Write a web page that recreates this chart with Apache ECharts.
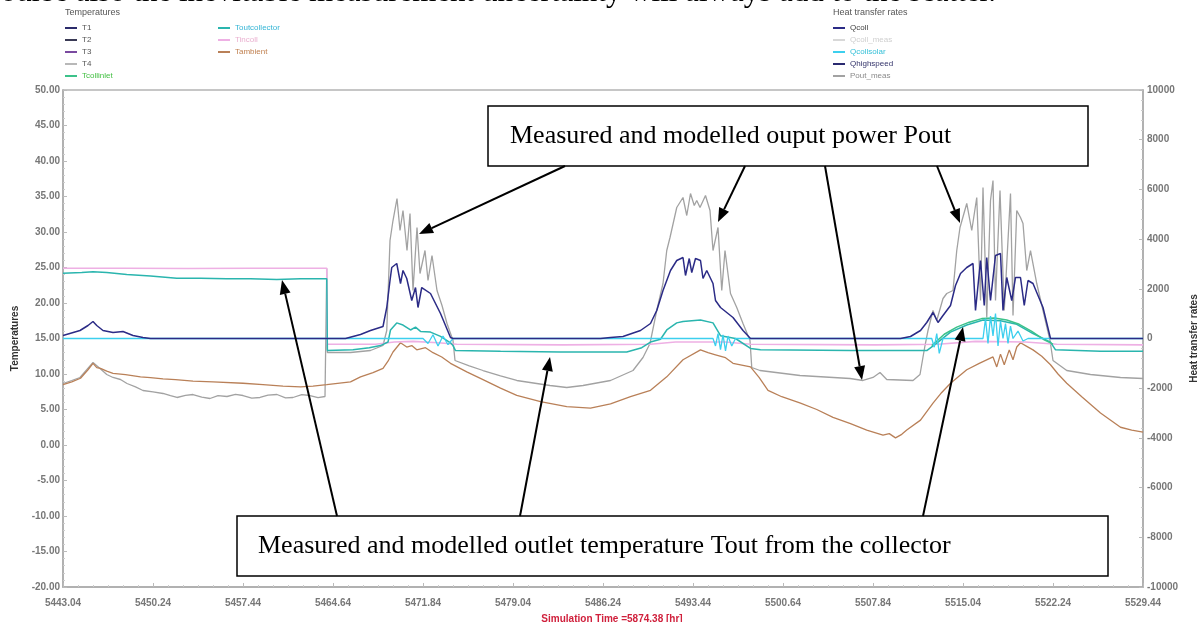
<!DOCTYPE html>
<html>
<head>
<meta charset="utf-8">
<script src="https://cdn.jsdelivr.net/npm/echarts@6/dist/echarts.min.js"></script>
<style>
html,body{margin:0;padding:0;background:#fff;overflow:hidden;}
#chart{width:1198px;height:622px;}
</style>
</head>
<body>
<div id="chart"></div>
<script>
// ---------- DATA (hours since 5443.04, values) ----------
const xTickLabels = ['5443.04','5450.24','5457.44','5464.64','5471.84','5479.04','5486.24','5493.44','5500.64','5507.84','5515.04','5522.24','5529.44'];
const xStep = 7.2;

// Temperatures [°C]
const tIncoll = [[0,24.9],[5,24.9],[10,24.85],[15,24.9],[21.1,24.9],[21.12,14.2],[25,14.2],[26.5,14.5],[28,14.6],[30,14.4],[31.5,14.2],[40,14.1],[47,14.2],[49,14.5],[53,14.5],[55,14.2],[65,14.1],[70,14.2],[73,14.6],[77,14.5],[79.5,14.2],[86.4,14.1]];

const tOutColl = [[0,24.2],[1.5,24.3],[2.4,24.4],[3.5,24.3],[5.1,24.0],[7,23.8],[9.1,23.5],[11,23.5],[13.1,23.4],[15,23.4],[17.1,23.3],[19,23.4],[21.1,23.4],[21.15,13.3],[23.2,13.4],[24.5,13.7],[25.4,14.0],[26.0,14.5],[26.2,16.2],[26.7,17.2],[27.2,16.9],[27.8,16.2],[28.2,16.6],[28.6,16.0],[29.4,15.9],[30.2,15.3],[31.0,14.4],[31.2,14.0],[31.4,13.3],[35,13.2],[39.8,13.1],[45.1,13.1],[46.3,13.7],[47,14.5],[47.8,14.9],[48.3,16.2],[49.1,17.2],[49.6,17.4],[50.3,17.5],[51,17.6],[52,17.2],[52.6,15.4],[53.8,15.0],[55,13.6],[55.8,13.4],[63,13.3],[69.1,13.3],[69.8,14.2],[71,15.9],[72.3,16.9],[73.6,17.6],[75,17.5],[76.3,17.0],[77.6,15.7],[79,14.5],[79.4,13.4],[83,13.2],[86.4,13.2]];

const tCollInlet = [[69.5,14.0],[70.5,15.6],[71.5,16.6],[72.5,17.3],[73.5,17.8],[74.5,17.9],[75.5,17.6],[76.5,17.0],[77.5,16.0],[78.5,14.8],[79.2,14.2]];

const tAmbient = [[0,8.5],[0.7,8.9],[1.4,9.4],[2.0,10.6],[2.4,11.5],[2.7,10.9],[3.0,10.8],[3.5,10.4],[4,10.1],[5,9.9],[6.2,9.6],[7,9.5],[8,9.3],[9,9.2],[10.4,9.0],[12,8.9],[14.4,8.7],[16,8.5],[17.6,8.3],[19,8.2],[20,8.3],[21.1,8.5],[23,8.9],[23.8,9.6],[24.8,10.2],[25.6,10.8],[26.0,11.8],[26.4,13.1],[27,14.4],[27.5,13.8],[27.9,14.0],[28.3,13.4],[29,13.7],[29.6,13.0],[30.3,12.4],[31,11.5],[32.3,10.3],[33.6,9.2],[35,8.0],[36.3,7.0],[38.2,6.1],[40.3,5.4],[42.2,5.2],[43.8,5.8],[45.4,6.8],[47,7.7],[48.3,9.6],[49.6,12.0],[51,13.4],[51.6,13.0],[52.2,12.7],[53,12.3],[53.6,11.5],[55,11.0],[55.7,9.5],[56.4,7.7],[57.5,6.8],[59,5.9],[60.3,5.0],[61.6,3.9],[63,3.0],[64.3,2.1],[65.6,1.4],[66.1,1.6],[66.6,1.0],[67.1,1.5],[67.5,2.1],[68.6,3.5],[69.6,5.9],[70.3,7.4],[71,8.7],[72.3,10.6],[73.3,11.5],[74.4,12.4],[74.7,11.0],[75.0,12.8],[75.3,11.3],[75.7,13.4],[76.0,12.0],[76.3,13.8],[76.6,14.4],[77.1,13.9],[77.6,13.4],[78.3,12.5],[79,11.3],[79.6,10.0],[80.3,8.7],[81.5,6.8],[83,4.5],[84.6,2.5],[85.5,2.1],[86.4,1.8]];

// Heat transfer rates [W]
const qColl = [[0,121],[1.36,322],[2.0,523],[2.4,684],[2.7,523],[3.2,322],[4,241],[4.8,282],[5.6,121],[6.4,40],[7,0],[21.1,0],[22.6,0],[23.8,161],[24.6,322],[25.6,483],[25.9,1247],[26.16,2334],[26.3,2857],[26.7,3018],[27,2213],[27.2,2736],[27.5,2414],[27.9,1529],[28.2,2052],[28.4,1247],[28.7,2052],[29.4,1811],[30.2,1006],[31,40],[31.2,0],[43,0],[43.8,40],[44.8,80],[46.2,322],[47,604],[47.5,1127],[48,1932],[48.6,2736],[49.1,3139],[49.6,3260],[49.8,2535],[50.1,3219],[50.3,2656],[50.6,3219],[51,3139],[51.2,2414],[51.5,2736],[52,2213],[52.2,1529],[52.6,1247],[53.1,1046],[53.6,845],[54.4,322],[55,0],[67,0],[67.8,80],[68.6,322],[69.1,644],[69.6,1046],[70,644],[70.4,926],[71,1328],[71.4,2133],[71.8,2616],[72.3,2857],[72.8,3018],[73,1127],[73.4,3139],[73.7,1328],[73.9,3260],[74.2,1529],[74.6,3340],[75,3420],[75.2,1127],[75.5,2455],[75.9,1529],[76.2,2455],[76.6,2455],[76.9,1328],[77.2,2334],[77.6,2213],[78.4,1247],[79,0],[86.4,0]];

const qCollSolar = [[0,0],[28.8,0],[29.2,-200],[29.6,150],[30,-300],[30.4,100],[30.8,-250],[31.2,0],[52,0],[52.2,-300],[52.4,200],[52.6,-450],[52.8,150],[53,-500],[53.2,100],[53.5,-300],[53.8,0],[69.5,0],[69.7,-350],[69.9,200],[70.1,-600],[70.4,0],[73.6,0],[73.8,800],[74,-200],[74.2,900],[74.4,100],[74.6,1000],[74.8,-300],[75,700],[75.2,0],[75.4,600],[75.6,-200],[75.8,500],[76,0],[76.4,300],[76.8,-100],[77.2,0],[86.4,0]];

const poutMeas = [[0,-1811],[0.7,-1690],[1.36,-1569],[1.9,-1250],[2.4,-966],[2.96,-1207],[3.5,-1450],[4,-1569],[4.6,-1650],[5.12,-1811],[5.8,-1950],[6.4,-2093],[7.2,-2150],[8,-2213],[8.6,-2300],[9.12,-2374],[9.8,-2290],[10.4,-2254],[11.1,-2360],[11.76,-2414],[12.4,-2300],[13.12,-2334],[13.8,-2250],[14.4,-2294],[15.1,-2400],[15.76,-2374],[16.4,-2280],[17.12,-2254],[17.8,-2390],[18.4,-2374],[19.1,-2260],[19.76,-2294],[20.4,-2380],[20.96,-2334],[21.05,-2334],[21.1,2817],[21.15,-563],[23,-563],[24.6,-483],[25.6,-282],[25.9,322],[26.16,3944],[26.4,4748],[26.72,5634],[26.96,4346],[27.2,5151],[27.52,3541],[27.76,5030],[28,1932],[28.32,4467],[28.56,2616],[28.96,3541],[29.2,2334],[29.52,3340],[29.92,1932],[30.32,1328],[30.72,604],[31.2,-80],[31.36,-885],[32.5,-1100],[33.6,-1288],[35,-1500],[36.3,-1690],[38.96,-1891],[40.3,-1972],[41.6,-1891],[43.8,-1690],[45.6,-1288],[46.4,-765],[46.96,-201],[47.5,1127],[48,2213],[48.3,3541],[48.56,4064],[49.1,5272],[49.6,5674],[49.9,4950],[50.2,5835],[50.5,5352],[50.7,5553],[50.96,5272],[51.4,5755],[51.76,5151],[52,3541],[52.4,4467],[52.7,1932],[52.96,3541],[53.4,1811],[53.9,1247],[54.4,604],[54.96,-80],[55.1,-1167],[55.76,-1288],[58.96,-1489],[62.96,-1610],[64,-1690],[64.8,-1569],[65.36,-1368],[65.9,-1650],[68,-1690],[68.56,-1449],[68.96,-282],[69.2,322],[69.6,1127],[69.9,724],[70.4,1610],[70.7,1811],[71.2,1932],[71.5,3541],[71.76,4467],[72.3,5433],[72.7,4346],[73.1,5674],[73.4,1529],[73.6,6076],[73.9,845],[74.2,5553],[74.4,6358],[74.6,1529],[74.96,5956],[75.3,1127],[75.8,5835],[76,926],[76.3,5151],[76.6,4869],[76.8,4628],[77.1,2736],[77.4,3541],[77.9,2213],[78.4,1127],[78.96,-80],[79.2,-885],[80.3,-1288],[82.2,-1449],[84.6,-1569],[86.4,-1610]];

const emptySeries = [];

// ---------- CHART ----------
const chart = echarts.init(document.getElementById('chart'), null, {renderer:'canvas'});

const serif = '"Liberation Serif","Times New Roman",serif';
const sans = '"Liberation Sans",Arial,sans-serif';

function line(name, data, color, yAxisIndex, width, z) {
  return {name, type:'line', data, yAxisIndex, showSymbol:false, symbol:'none',
    lineStyle:{color, width: width||1.2}, itemStyle:{color}, z: z||2, animation:false};
}

const series = [
  line('T1', emptySeries, '#2b2b6b', 0),
  line('T2', emptySeries, '#3a3a55', 0),
  line('T3', emptySeries, '#7a4aa0', 0),
  line('T4', emptySeries, '#b8b8b8', 0),
  line('Pout_meas', poutMeas, '#a2a2a2', 1, 1.3, 2),
  line('Tambient', tAmbient, '#b98058', 0, 1.3, 3),
  line('Tincoll', tIncoll, '#eeb0e4', 0, 1.6, 3),
  line('Toutcollector', tOutColl, '#2ab5ae', 0, 1.5, 4),
  line('Tcollinlet', tCollInlet, '#3cc28a', 0, 1.5, 5),
  line('Qcollsolar', qCollSolar, '#3ccfee', 1, 1.3, 5),
  line('Qcoll_meas', emptySeries, '#d8d8d8', 1),
  line('Qhighspeed', emptySeries, '#2a2a70', 1),
  line('Qcoll', qColl, '#2b2b86', 1, 1.5, 6)
];

function legendBlock(left, items) {
  return {
    left, top: 23, orient:'vertical', icon:'rect', itemWidth:12, itemHeight:2, itemGap:2,
    selectedMode:false, padding:0,
    textStyle:{fontSize:8, lineHeight:10, fontFamily:sans, color:'#555', padding:[0,0,0,0]},
    data: items.map(it => ({name: it[0], textStyle:{color: it[1]}}))
  };
}

const arrows = [
  [565,166,419,234],[745,166,718,222],[825,166,862,380],[937,166,960,223],
  [337,516,282,280],[520,516,550,357],[923,516,963,327]
];
function arrowGraphics() {
  const out = [];
  arrows.forEach(a => {
    const [x1,y1,x2,y2] = a;
    const ang = Math.atan2(y2-y1, x2-x1), L = 14, W = 5.5;
    const bx = x2 - L*Math.cos(ang), by = y2 - L*Math.sin(ang);
    out.push({type:'line', z:100, shape:{x1, y1, x2:bx, y2:by}, style:{stroke:'#000', lineWidth:2}});
    out.push({type:'polygon', z:100, shape:{points:[[x2,y2],[bx + W*Math.sin(ang), by - W*Math.cos(ang)],[bx - W*Math.sin(ang), by + W*Math.cos(ang)]]}, style:{fill:'#000'}});
  });
  return out;
}

const option = {
  backgroundColor:'#fff',
  animation:false,
  grid:{left:63, right:55, top:90, bottom:35, show:true, borderColor:'#b4b4b4', borderWidth:1.5, backgroundColor:'transparent', containLabel:false, outerBoundsMode:'none'},
  legend:[
    legendBlock(65, [['T1','#555'],['T2','#555'],['T3','#555'],['T4','#555'],['Tcollinlet','#44c044']]),
    legendBlock(218, [['Toutcollector','#35b5d5'],['Tincoll','#eab0d0'],['Tambient','#c08050']]),
    legendBlock(833, [['Qcoll','#444'],['Qcoll_meas','#cfcfcf'],['Qcollsolar','#35c0d8'],['Qhighspeed','#33336a'],['Pout_meas','#8a8a8a']])
  ],
  xAxis:{
    type:'value', min:0, max:86.4, interval:xStep,
    name:'Simulation Time =5874.38 [hr]', nameLocation:'middle', nameGap:27,
    nameTextStyle:{color:'#d0203c', fontSize:10, fontWeight:'bold', fontFamily:sans, padding:[0,0,0,18]},
    axisLine:{show:true, onZero:false, lineStyle:{color:'#aaa', width:1.5}},
    axisTick:{show:true, inside:true, length:4, lineStyle:{color:'#bbb'}},
    minorTick:{show:true, splitNumber:6, length:2, lineStyle:{color:'#ccc'}},
    splitLine:{show:false},
    axisLabel:{margin:11, fontSize:10, color:'#777', fontWeight:'bold', fontFamily:sans,
      formatter: v => xTickLabels[Math.round(v/xStep)] || ''}
  },
  yAxis:[
    {type:'value', min:-20, max:50, interval:5, position:'left',
      name:'Temperatures', nameLocation:'middle', nameGap:42, nameRotate:90,
      nameTextStyle:{color:'#333', fontSize:10, fontWeight:'bold', fontFamily:sans},
      axisLine:{show:true, onZero:false, lineStyle:{color:'#aaa', width:1.5}},
      axisTick:{show:true, inside:true, length:4, lineStyle:{color:'#bbb'}},
      minorTick:{show:true, splitNumber:5, length:2, lineStyle:{color:'#ccc'}},
      splitLine:{show:false},
      axisLabel:{margin:3, fontSize:10, color:'#777', fontWeight:'bold', fontFamily:sans, formatter:v=>v.toFixed(2)}},
    {type:'value', min:-10000, max:10000, interval:2000, position:'right',
      name:'Heat transfer rates', nameLocation:'middle', nameGap:43, nameRotate:90,
      nameTextStyle:{color:'#333', fontSize:10, fontWeight:'bold', fontFamily:sans},
      axisLine:{show:true, onZero:false, lineStyle:{color:'#aaa', width:1.5}},
      axisTick:{show:true, inside:true, length:4, lineStyle:{color:'#bbb'}},
      minorTick:{show:true, splitNumber:5, length:2, lineStyle:{color:'#ccc'}},
      splitLine:{show:false},
      axisLabel:{margin:4, fontSize:10, color:'#777', fontWeight:'bold', fontFamily:sans, formatter:v=>String(v)}}
  ],
  series,
  graphic:[
    {type:'text', z:100, style:{x:-13, y:-7, text:'course also the inevitable measurement uncertainty will always add to the scatter.', font:'31px '+serif, fill:'#000', verticalAlign:'middle'}},
    {type:'text', z:100, style:{x:65, y:13, text:'Temperatures', font:'9px '+sans, fill:'#555', verticalAlign:'middle'}},
    {type:'text', z:100, style:{x:833, y:13, text:'Heat transfer rates', font:'9px '+sans, fill:'#555', verticalAlign:'middle'}},
    {type:'rect', z:99, shape:{x:488, y:106, width:600, height:60}, style:{fill:'#fff', stroke:'#000', lineWidth:1.5}},
    {type:'text', z:100, style:{x:510, y:136, text:'Measured and modelled ouput power Pout', font:'26px '+serif, fill:'#000', verticalAlign:'middle'}},
    {type:'rect', z:99, shape:{x:237, y:516, width:871, height:60}, style:{fill:'#fff', stroke:'#000', lineWidth:1.5}},
    {type:'text', z:100, style:{x:258, y:546, text:'Measured and modelled outlet temperature Tout from the collector', font:'26px '+serif, fill:'#000', verticalAlign:'middle'}}
  ].concat(arrowGraphics())
};
chart.setOption(option);
</script>
</body>
</html>
